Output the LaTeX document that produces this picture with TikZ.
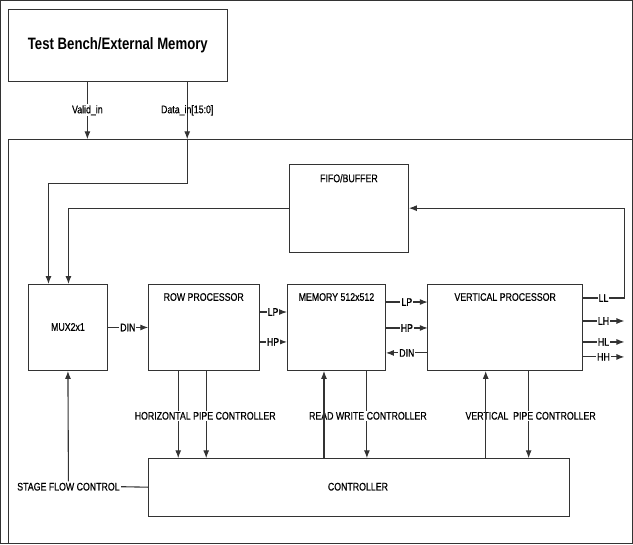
\documentclass[tikz,border=0pt]{standalone}
\usepackage{fontspec}
\setmainfont{Liberation Sans}
\newfontfamily\narrow[FakeStretch=0.8,FakeBold=0.6]{Liberation Sans}
\newfontfamily\narrowtitle[FakeStretch=0.8]{Liberation Sans}
\usetikzlibrary{arrows.meta}
\begin{document}
\begin{tikzpicture}[x=1pt,y=-1pt,
  line width=1.1pt,
  every path/.style={draw=black!80},
  >={Latex[length=8pt,width=6pt]},
  box/.style={draw=black!80, inner sep=0pt, outer sep=0pt},
  lbl/.style={font=\narrow\fontsize{11}{13}\selectfont, inner sep=1pt, text=black},
  wlbl/.style={lbl, fill=white},
  ttl/.style={font=\narrowtitle\bfseries\fontsize{16.5}{19}\selectfont, inner sep=0pt, text=black}]
\useasboundingbox (0,0) rectangle (633,544);

% outer system boundary
\coordinate (bbtl) at (8,139);
\draw (8,544) -- (bbtl) -- (633,139);

% boxes
\node[box, minimum width=219pt, minimum height=72pt] (tb) at (117.5,45) {};
\node[ttl] (tbt) at (117.5,45) {Test Bench/External Memory};
\node[box, minimum width=120pt, minimum height=88pt] (fifo) at (349,208) {};
\node[lbl] (fifot) at (349,178) {FIFO/BUFFER};
\node[box, minimum width=79pt, minimum height=87pt] (mux) at (67.5,327.5) {};
\node[lbl] (muxt) at (67.5,327) {MUX2x1};
\node[box, minimum width=111pt, minimum height=87pt] (row) at (203.5,327.5) {};
\node[lbl] (rowt) at (203.5,297) {ROW PROCESSOR};
\node[box, minimum width=99pt, minimum height=87pt] (mem) at (336.5,327.5) {};
\node[lbl] (memt) at (336.5,297) {MEMORY 512x512};
\node[box, minimum width=155pt, minimum height=87pt] (vp) at (505.5,327.5) {};
\node[lbl] (vpt) at (505.5,297) {VERTICAL PROCESSOR};
\node[box, minimum width=422pt, minimum height=58pt] (ctrl) at (359,487.5) {};
\node[lbl] (ctrlt) at (358,487) {CONTROLLER};

% inputs from test bench
\draw[->] (87,0 |- tb.south) -- node[wlbl] (vl) {Valid\_in} (87,0 |- bbtl);
\draw[->] (187,0 |- tb.south) -- node[lbl] (dl) {Data\_in[15:0]} (187,0 |- bbtl);
\draw[->] (187,0 |- bbtl) -- (187,183) -- (48,183) -- (48,0 |- mux.north);

% FIFO to mux
\draw[->] (fifo.west) -- (68,208) -- (68,0 |- mux.north);

% mux to row
\draw[->] (mux.east) -- node[wlbl] (dinl) {DIN} (row.west);

% row to memory
\draw[->] (row.east |- 0,312) -- node[wlbl] (lp1) {LP} (mem.west |- 0,312);
\draw[->] (row.east |- 0,342) -- node[wlbl] (hp1) {HP} (mem.west |- 0,342);

% memory <-> vertical processor
\draw[->] (mem.east |- 0,302) -- node[wlbl] (lp2) {LP} (vp.west |- 0,302);
\draw[->] (mem.east |- 0,328) -- node[wlbl] (hp2) {HP} (vp.west |- 0,328);
\draw[->] (vp.west |- 0,353) -- node[wlbl] (din2) {DIN} (mem.east |- 0,353);

% vertical processor outputs
\draw[->] (vp.east |- 0,298) -- node[wlbl] (ll) {LL} (625,298) -- (625,208) -- (fifo.east);
\draw[->] (vp.east |- 0,321) -- node[wlbl] (lh) {LH} (625,321);
\draw[->] (vp.east |- 0,342) -- node[wlbl] (hl) {HL} (625,342);
\draw[->] (vp.east |- 0,357) -- node[wlbl] (hh) {HH} (625,357);

% controller links (down)
\draw[->] (178,0 |- row.south) -- (178,0 |- ctrl.north);
\draw[->] (206,0 |- row.south) -- (206,0 |- ctrl.north);
\draw[->] (367,0 |- mem.south) -- (367,0 |- ctrl.north);
\draw[->] (529,0 |- vp.south) -- (529,0 |- ctrl.north);
\node[wlbl] (hpc) at (205,416) {HORIZONTAL PIPE CONTROLLER};
\node[wlbl] (rwc) at (368,416) {READ WRITE CONTROLLER};
\node[wlbl] (vpc) at (531,416) {VERTICAL\ \ PIPE CONTROLLER};
% controller links (up)
\draw[->] (324,0 |- ctrl.north) -- (324,0 |- mem.south);
\draw[->] (486,0 |- ctrl.north) -- (486,0 |- vp.south);

% stage flow control
\node[lbl] (sfc) at (68,487) {STAGE FLOW CONTROL};
\draw (sfc.east) -- (ctrl.west);
\draw[->] (sfc.north) -- (mux.south);
\end{tikzpicture}
\end{document}
